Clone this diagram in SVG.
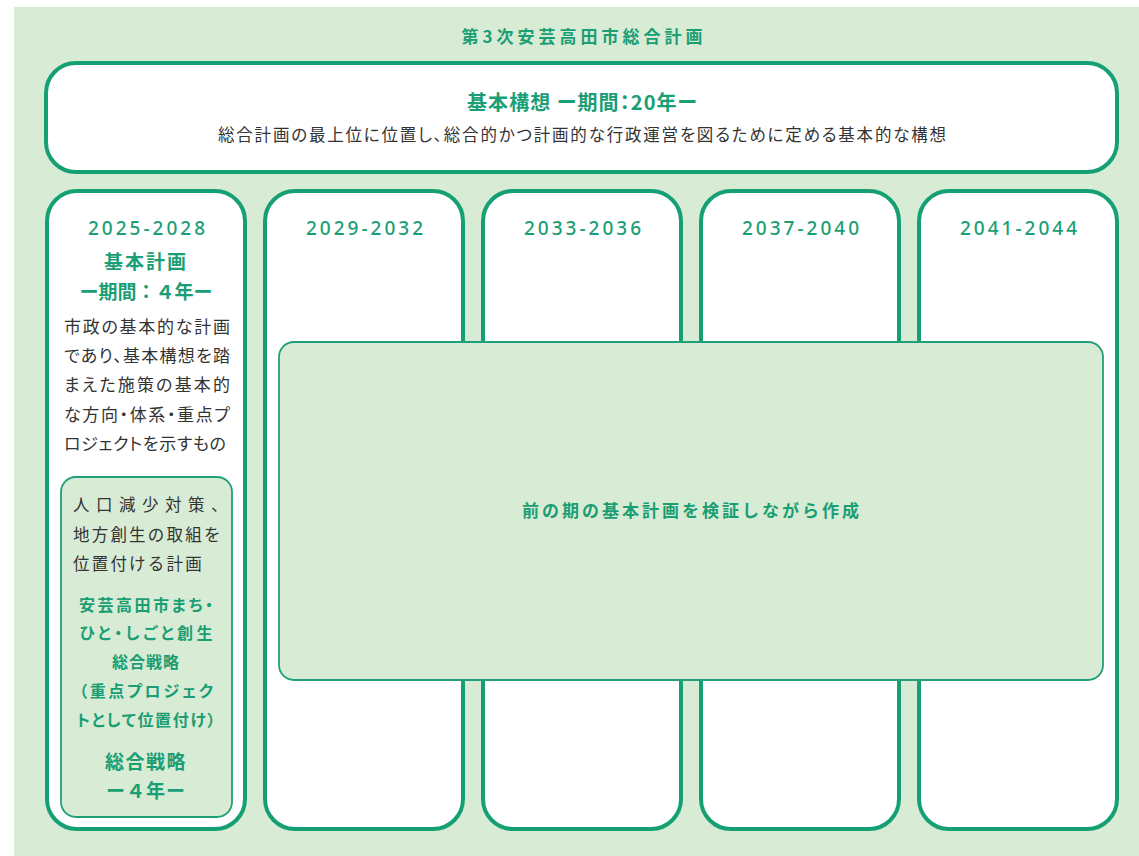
<svg xmlns="http://www.w3.org/2000/svg" width="1139" height="856" viewBox="0 0 1139 856">
<style>
.bg{fill:#d8ebd5}
.outer{fill:#fff;stroke:#15a073;stroke-width:4}
.inner{fill:#d8ebd5;stroke:#1fa078;stroke-width:1.8}
.g{font-family:"Noto Sans CJK JP","Noto Sans",sans-serif;fill:#1a9e74;font-weight:bold}
.d{font-family:"Noto Sans CJK JP","Noto Sans",sans-serif;fill:#333;font-weight:normal}
.p{font-feature-settings:"palt"}
.yr{font-family:"Noto Sans","Noto Sans CJK JP",sans-serif;fill:#1a9e74;font-weight:500;font-size:19px;letter-spacing:3px;text-anchor:middle}
.c{text-anchor:middle}
</style>
<rect class="bg" x="14" y="7" width="1125" height="849"/>
<text class="g c" x="584" y="43" font-size="17" letter-spacing="4">第3次安芸高田市総合計画</text>

<g id="kihon-koso">
<rect class="outer" x="46" y="63" width="1071" height="109" rx="30"/>
<text class="g c p" x="582" y="110" font-size="20" textLength="230" lengthAdjust="spacing">基本構想 ー期間：20年ー</text>
<text class="d c p" x="582" y="141" font-size="16.5" textLength="728" lengthAdjust="spacing">総合計画の最上位に位置し、総合的かつ計画的な行政運営を図るために定める基本的な構想</text>
</g>

<g id="col1">
<rect class="outer" x="47" y="191" width="198" height="638" rx="30"/>
<text class="yr" x="148" y="235">2025-2028</text>
<text class="g c" x="146" y="269" font-size="19" letter-spacing="2">基本計画</text>
<text class="g c" x="146" y="299" font-size="19">ー期間：４年ー</text>
<g class="d p" font-size="17">
<text x="64" y="333" textLength="166" lengthAdjust="spacing">市政の基本的な計画</text>
<text x="64" y="362" textLength="166" lengthAdjust="spacing">であり、基本構想を踏</text>
<text x="64" y="391" textLength="166" lengthAdjust="spacing">まえた施策の基本的</text>
<text x="64" y="421" textLength="166" lengthAdjust="spacing">な方向・体系・重点プ</text>
<text x="64" y="450" textLength="162" lengthAdjust="spacing">ロジェクトを示すもの</text>
</g>
</g>

<g id="sogo-senryaku">
<rect class="inner" x="61" y="477" width="171" height="340" rx="15"/>
<g class="d" font-size="16.5">
<text x="73" y="511" letter-spacing="6.5">人口減少対策、</text>
<text x="73" y="541" letter-spacing="2.2">地方創生の取組を</text>
<text x="73" y="570" letter-spacing="2.2">位置付ける計画</text>
</g>
<g class="g c p" font-size="16">
<text x="146" y="611" textLength="134" lengthAdjust="spacing">安芸高田市まち・</text>
<text x="146" y="639" textLength="133" lengthAdjust="spacing">ひと・しごと創生</text>
<text x="146" y="668" letter-spacing="1">総合戦略</text>
<text x="146" y="697" textLength="134" lengthAdjust="spacing">（重点プロジェク</text>
<text x="146" y="726" textLength="139" lengthAdjust="spacing">トとして位置付け）</text>
</g>
<text class="g c" x="146" y="769" font-size="19" letter-spacing="1.5">総合戦略</text>
<text class="g c" x="146" y="798" font-size="19" letter-spacing="1">ー４年ー</text>
</g>

<g id="col2">
<rect class="outer" x="265" y="191" width="198" height="638" rx="30"/>
<text class="yr" x="366" y="235">2029-2032</text>
</g>
<g id="col3">
<rect class="outer" x="483" y="191" width="198" height="638" rx="30"/>
<text class="yr" x="584" y="235">2033-2036</text>
</g>
<g id="col4">
<rect class="outer" x="701" y="191" width="198" height="638" rx="30"/>
<text class="yr" x="802" y="235">2037-2040</text>
</g>
<g id="col5">
<rect class="outer" x="919" y="191" width="198" height="638" rx="30"/>
<text class="yr" x="1020" y="235">2041-2044</text>
</g>

<g id="kensho">
<rect class="inner" x="279" y="342" width="824" height="338" rx="15"/>
<text class="g c" x="692" y="517" font-size="17" letter-spacing="3">前の期の基本計画を検証しながら作成</text>
</g>

<g id="connectors"></g>
</svg>
